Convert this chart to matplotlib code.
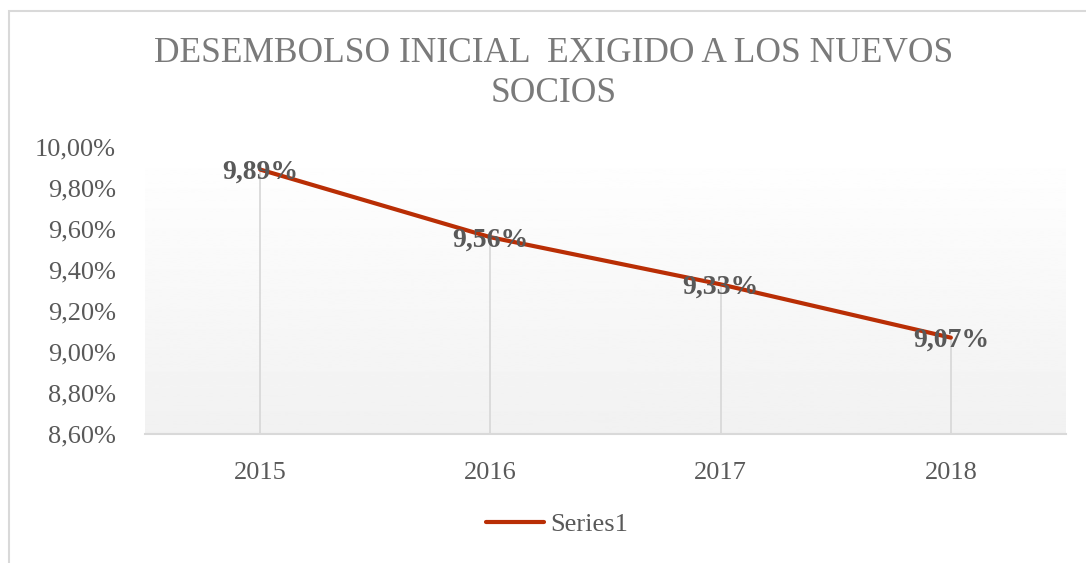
"""Desembolso inicial exigido a los nuevos socios - grafico de lineas."""

import numpy as np
import matplotlib

matplotlib.use("Agg")
import matplotlib.pyplot as plt
from matplotlib.patches import Rectangle

# Datos
years = ["2015", "2016", "2017", "2018"]
values = [9.89, 9.56, 9.33, 9.07]  # en %
y_ticks = [8.60, 8.80, 9.00, 9.20, 9.40, 9.60, 9.80, 10.00]

plt.rcParams["font.family"] = ["Liberation Serif", "DejaVu Serif"]

fig = plt.figure(figsize=(10.86, 5.63), dpi=100)

# Marco exterior
fig.patches.append(
    Rectangle((9 / 1086, -0.01), 1.1, 1 - 11 / 563 + 0.01, transform=fig.transFigure,
              fill=False, edgecolor="#D9D9D9", linewidth=1.5)
)

ax = fig.add_axes([145 / 1086, 1 - 434 / 563, (1066 - 145) / 1086, (434 - 147) / 563])

# Fondo degradado
grad = np.linspace(1.0, 0.945, 256).reshape(-1, 1)
ax.imshow(grad, cmap="gray", vmin=0, vmax=1, aspect="auto",
          extent=[0, 1, 0, 1], transform=ax.transAxes, zorder=0)

x = np.arange(len(years))
ax.vlines(x, 8.60, values, color="#D9D9D9", linewidth=1.3, zorder=1)
ax.plot(x, values, color="#B92E05", linewidth=3.0, solid_capstyle="round",
        label="Series1", zorder=2)

for xi, v in zip(x, values):
    ax.annotate(f"{v:.2f}%".replace(".", ","), (xi, v), xytext=(0, -2),
                textcoords="offset points", ha="center", va="center",
                fontsize=20, fontweight="bold", color="#595959", zorder=3)

ax.set_xlim(-0.5, len(years) - 0.5)
ax.set_ylim(8.60, 10.00)
ax.set_xticks(x)
ax.set_xticklabels(years)
ax.set_yticks(y_ticks)
ax.set_yticklabels([f"{t:.2f}%".replace(".", ",") for t in y_ticks])
ax.tick_params(axis="both", length=0, labelsize=19, labelcolor="#595959")
ax.tick_params(axis="x", pad=20)
ax.tick_params(axis="y", pad=21)

for side in ["top", "right", "left"]:
    ax.spines[side].set_visible(False)
ax.spines["bottom"].set_color("#D9D9D9")
ax.spines["bottom"].set_linewidth(1.5)

fig.text(0.51, 1 - 54 / 563, "DESEMBOLSO INICIAL  EXIGIDO A LOS NUEVOS", ha="center",
         va="center", fontsize=25.5, color="#7A7A7A")
fig.text(0.51, 1 - 94 / 563, "SOCIOS", ha="center", va="center", fontsize=25.5,
         color="#7A7A7A")

fig.legend(loc="center", bbox_to_anchor=(0.513, 1 - 524 / 563), frameon=False,
           fontsize=19, labelcolor="#595959", handlelength=2.2, handletextpad=0.25)

fig.savefig("out.png", dpi=100)
